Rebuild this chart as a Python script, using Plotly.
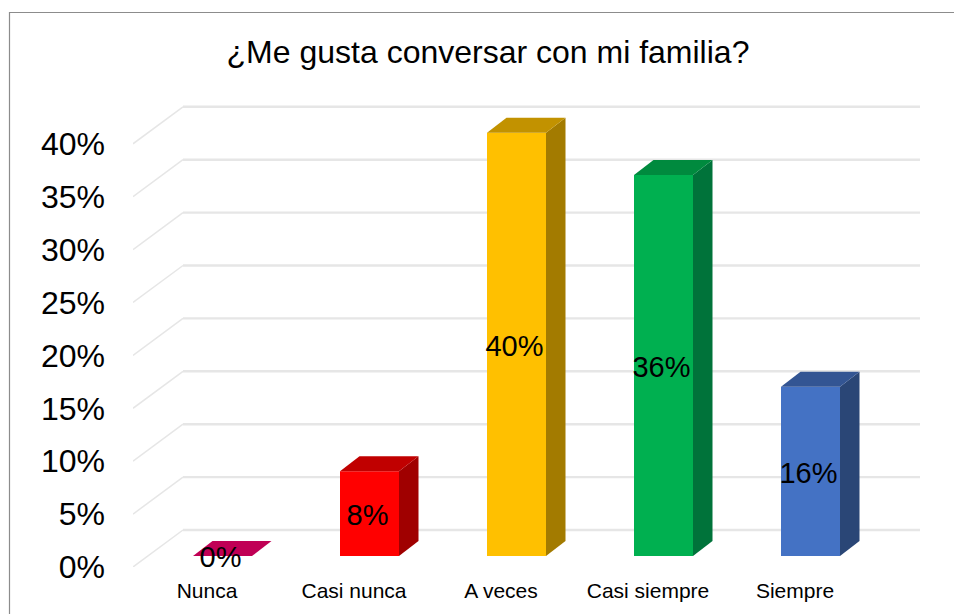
import plotly.graph_objects as go

categories = ["Nunca", "Casi nunca", "A veces", "Casi siempre", "Siempre"]
values = [0, 8, 40, 36, 16]
y_ticks = [0, 5, 10, 15, 20, 25, 30, 35, 40]
title_text = "¿Me gusta conversar con mi familia?"
front_colors = ["#C00055", "#FF0000", "#FFC000", "#00B050", "#4472C4"]
top_colors = ["#C00055", "#C00000", "#C29200", "#008A3E", "#335593"]
side_colors = ["#90003E", "#A00000", "#A37B00", "#00733A", "#2A4676"]

W, H = 954, 614
L, R, T, B = 133, 925, 100, 567      # plot area, px
PX_Y = 10.58                          # px per percentage point
PX_X = 147.0                          # px per category
ix = list(range(len(categories)))

# scene geometry, in axis units
bar_w = 59 / PX_X
base = 11 / PX_Y                      # bar plane above the front floor edge
dx, dy = 19.5 / PX_X, 15 / PX_Y       # bar depth
x_lo = (L - 222.5) / PX_X
x_hi = (R - 222.5) / PX_X
wall_x = x_lo + 50 / PX_X
wall_end = x_lo + (920 - L) / PX_X
wall_dy = 37 / PX_Y
label_shift = 15.5 / PX_X

fig = go.Figure()

# floor / wall grid lines
shapes = []
grid = "#E6E6E6"
for t in y_ticks:
    shapes.append(dict(type="line", layer="below", xref="x", yref="y", x0=x_lo, y0=t,
                       x1=wall_x, y1=t + wall_dy, line=dict(color=grid, width=1.5)))
    shapes.append(dict(type="line", layer="below", xref="x", yref="y", x0=wall_x, y0=t + wall_dy,
                       x1=wall_end, y1=t + wall_dy, line=dict(color=grid, width=2.4)))
# chart frame
px = lambda p: (p - L) / (R - L)
py = lambda p: 1 - (p - T) / (B - T)
shapes.append(dict(type="rect", layer="below", xref="paper", yref="paper",
                   x0=px(9.5), x1=px(970), y0=py(12.5), y1=py(640),
                   line=dict(color="#8C8C8C", width=1.2), fillcolor="rgba(0,0,0,0)"))

# front faces
fig.add_trace(go.Bar(x=ix, y=values, base=[base] * len(values), width=bar_w,
                     marker=dict(color=front_colors, line=dict(width=0)),
                     hoverinfo="skip", showlegend=False))

# side and top faces
for i, v, cs, ct in zip(ix, values, side_colors, top_colors):
    x0, x1 = i - bar_w / 2, i + bar_w / 2
    top = base + v
    fig.add_trace(go.Scatter(
        x=[x1, x1, x1 + dx, x1 + dx, x1], y=[base, top, top + dy, base + dy, base],
        mode="lines", fill="toself", fillcolor=cs, line=dict(width=0),
        hoverinfo="skip", showlegend=False))
    fig.add_trace(go.Scatter(
        x=[x0, x1, x1 + dx, x0 + dx, x0], y=[top, top, top + dy, top + dy, top],
        mode="lines", fill="toself", fillcolor=ct, line=dict(width=0),
        hoverinfo="skip", showlegend=False))

# data labels
fig.add_trace(go.Scatter(
    x=[i - 2 / PX_X for i in ix], y=[base + v / 2 - 4 / PX_Y for v in values], mode="text",
    text=[f"{v}%" for v in values], textposition="middle center",
    textfont=dict(family="Liberation Sans, Arial", size=29, color="#000000"),
    hoverinfo="skip", showlegend=False))

fig.update_layout(
    width=W, height=H, autosize=False,
    margin=dict(l=L, r=W - R, t=T, b=H - B, pad=0, autoexpand=False),
    paper_bgcolor="#FFFFFF", plot_bgcolor="rgba(0,0,0,0)",
    font=dict(family="Liberation Sans, Arial", color="#000000"),
    shapes=shapes,
    title=dict(text=title_text, x=488 / W, xanchor="center", y=1 - 52 / H, yanchor="middle",
               font=dict(size=32, color="#000000")),
    xaxis=dict(range=[x_lo, x_hi], tickvals=[i - label_shift for i in ix], ticktext=categories,
               showgrid=False, zeroline=False, showline=False, ticks="", automargin=False,
               ticklabelstandoff=9, tickfont=dict(size=21, color="#000000")),
    yaxis=dict(range=[0, (B - T) / PX_Y], tickvals=y_ticks, ticktext=[f"{t}%" for t in y_ticks],
               showgrid=False, zeroline=False, showline=False, ticks="", automargin=False,
               ticklabelstandoff=27, tickfont=dict(size=32, color="#000000")),
)

fig.write_html("out.html", config=dict(displayModeBar=False),
               post_script="document.body.style.margin='0';")
